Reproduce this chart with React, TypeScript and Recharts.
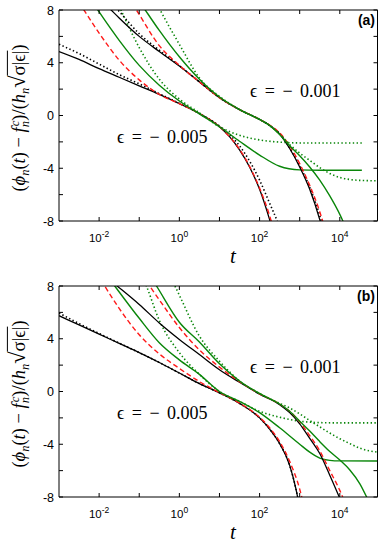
import React from "react";
import { LineChart, Line, XAxis, YAxis } from "recharts";

// each curve: [log10 t, y]
type Pt = [number, number];

// ---- panel (a) ----
const aBlack005: Pt[] = [[-3, 4.85], [-2.5, 4.25], [-2, 3.55], [-1.5, 2.9], [-1, 2.25], [-0.5, 1.6], [0, 0.9], [0.5, 0.15], [1, -0.85], [1.25, -1.6], [1.5, -2.6], [1.75, -3.9], [2, -5.6], [2.25, -7.9], [2.4, -9.5]];
const aBlackDot005: Pt[] = [[-3, 5.4], [-2.5, 4.7], [-2, 3.9], [-1.5, 3.1], [-1, 2.4], [-0.5, 1.65], [0, 0.92], [0.5, 0.15], [1, -0.8], [1.25, -1.45], [1.5, -2.3], [1.75, -3.45], [2, -4.9], [2.25, -6.65], [2.45, -8.1], [2.55, -9]];
const aRed005: Pt[] = [[-2.5, 8.55], [-2.4, 8.1], [-2, 6.25], [-1.5, 4.2], [-1, 2.7], [-0.5, 1.6], [0, 0.9], [0.5, 0.15], [1, -0.85], [1.25, -1.6], [1.5, -2.55], [1.75, -3.85], [2, -5.5], [2.25, -7.6], [2.4, -9.2]];
const aGreen005: Pt[] = [[-2.1, 8.3], [-2, 7.85], [-1.5, 5.7], [-1, 3.8], [-0.5, 2.3], [0, 1.1], [0.5, 0.12], [1, -0.85], [1.5, -1.95], [2, -3.0], [2.5, -3.85], [3, -4.12], [3.5, -4.15], [4.55, -4.15]];
const aGreenDot005: Pt[] = [[-1.5, 8.3], [-1, 5.15], [-0.5, 2.75], [0, 1.25], [0.5, 0.2], [1, -0.85], [1.5, -1.5], [2, -1.85], [2.5, -2.02], [3, -2.08], [4.55, -2.08]];

const aBlack001: Pt[] = [[-1.85, 8.45], [-1.7, 8.0], [-1.5, 7.4], [-1, 6.0], [-0.5, 4.85], [0, 3.75], [0.5, 2.55], [1, 1.35], [1.5, 0.45], [2, -0.3], [2.25, -0.75], [2.5, -1.4], [2.75, -2.5], [3, -3.9], [3.25, -5.6], [3.5, -7.9], [3.6, -9]];
const aBlackDot001: Pt[] = [[-1.65, 8.4], [-1.53, 8.0], [-1, 6.2], [-0.5, 4.95], [0, 3.78], [0.5, 2.55], [1, 1.35], [1.5, 0.45], [2, -0.3], [2.25, -0.75], [2.5, -1.38], [2.75, -2.45], [3, -3.8], [3.25, -5.45], [3.5, -7.6], [3.6, -8.7]];
const aRed001: Pt[] = [[-1.17, 8.47], [-1.07, 8.0], [-0.5, 5.3], [0, 3.8], [0.5, 2.55], [1, 1.35], [1.5, 0.45], [2, -0.3], [2.25, -0.72], [2.5, -1.32], [2.75, -2.3], [3, -3.65], [3.25, -5.3], [3.5, -7.3], [3.65, -8.8]];
const aGreen001: Pt[] = [[-0.95, 8.45], [-0.85, 8.0], [-0.5, 6.45], [0, 4.45], [0.5, 2.75], [1, 1.4], [1.5, 0.45], [2, -0.3], [2.25, -0.75], [2.5, -1.45], [2.75, -2.3], [3, -3.05], [3.25, -3.9], [3.5, -4.9], [3.75, -6.1], [4, -7.5], [4.15, -8.5]];
const aGreenDot001: Pt[] = [[-0.55, 8.4], [-0.48, 8.0], [0, 5.4], [0.5, 2.85], [1, 1.45], [1.5, 0.45], [2, -0.3], [2.25, -0.75], [2.5, -1.4], [2.75, -2.2], [3, -2.85], [3.25, -3.4], [3.5, -3.95], [3.75, -4.4], [4, -4.7], [4.25, -4.85], [4.5, -4.92], [4.94, -4.95]];

// ---- panel (b) ----
const bBlack005: Pt[] = [[-3, 5.75], [-2.5, 5.05], [-2, 4.35], [-1.5, 3.65], [-1, 2.95], [-0.5, 2.2], [0, 1.4], [0.5, 0.6], [1, -0.1], [1.5, -0.9], [2, -2.0], [2.25, -2.85], [2.5, -3.95], [2.75, -5.6], [2.9, -7.3], [3.0, -8.8]];
const bBlackDot005: Pt[] = [[-3, 5.95], [-2.5, 5.15], [-2, 4.4], [-1.5, 3.67], [-1, 2.95], [-0.5, 2.2], [0, 1.4], [0.5, 0.6], [1, -0.1], [1.5, -0.9], [2, -2.0], [2.25, -2.85], [2.5, -3.95], [2.75, -5.6], [2.9, -7.3], [3.0, -8.8]];
const bRed005: Pt[] = [[-1.95, 8.45], [-1.86, 8.0], [-1.5, 6.3], [-1, 4.3], [-0.5, 2.85], [0, 1.75], [0.5, 0.75], [1, -0.08], [1.5, -0.88], [2, -1.95], [2.25, -2.75], [2.5, -3.8], [2.75, -5.3], [3, -7.4], [3.1, -8.6]];
const bGreen005: Pt[] = [[-1.72, 8.45], [-1.61, 8.0], [-1, 5.55], [-0.5, 3.7], [0, 2.4], [0.5, 1.3], [1, 0.0], [1.5, -0.75], [2, -1.6], [2.5, -2.75], [3, -4.0], [3.25, -4.6], [3.5, -5.05], [3.75, -5.22], [4, -5.26], [4.94, -5.27]];
const bGreenDot005: Pt[] = [[-0.9, 8.6], [-0.82, 8.0], [-0.5, 5.4], [0, 2.95], [0.5, 1.3], [1, 0.0], [1.5, -0.75], [2, -1.5], [2.5, -1.95], [3, -2.25], [3.5, -2.36], [4, -2.38], [4.94, -2.38]];

const bBlack001: Pt[] = [[-1.75, 8.5], [-1.57, 8.05], [-1, 6.6], [-0.5, 5.2], [0, 3.95], [0.5, 2.8], [1, 1.65], [1.5, 0.7], [2, -0.2], [2.5, -1.0], [2.75, -1.6], [3, -2.45], [3.25, -3.55], [3.5, -4.7], [3.75, -6.35], [4, -8.1]];
const bRed001: Pt[] = [[-0.82, 8.35], [-0.74, 8.0], [-0.5, 6.95], [0, 4.85], [0.5, 3.15], [1, 1.85], [1.5, 0.75], [2, -0.18], [2.5, -0.95], [2.75, -1.5], [3, -2.3], [3.25, -3.35], [3.5, -4.5], [3.75, -6.0], [4, -7.5], [4.15, -8.6]];
const bGreen001: Pt[] = [[-0.67, 8.48], [-0.57, 8.0], [0, 5.25], [0.5, 3.75], [1, 2.1], [1.5, 0.8], [2, -0.15], [2.5, -0.95], [2.75, -1.5], [3, -2.25], [3.25, -3.0], [3.5, -3.8], [3.75, -4.55], [4, -5.2], [4.25, -5.95], [4.5, -7.0], [4.7, -8.2]];
const bGreenDot001: Pt[] = [[-0.2, 8.5], [-0.11, 8.0], [0, 7.3], [0.5, 4.2], [1, 2.3], [1.5, 0.8], [2, -0.15], [2.5, -0.9], [2.75, -1.25], [3, -1.7], [3.25, -2.2], [3.5, -2.68], [3.75, -3.15], [4, -3.58], [4.25, -3.95], [4.5, -4.3], [4.94, -4.6]];

const xTicks = [1e-2, 1e-1, 1, 1e1, 1e2, 1e3, 1e4];
const yTicks = [-8, -6, -4, -2, 0, 2, 4, 6, 8];
const xDomain = [1e-3, 8.7e4];
const yDomain = [-8, 8];

const STYLES: Record<string, { stroke: string; width: number; dash?: string }> = {
  black: { stroke: "#000", width: 1.3 },
  blackDot: { stroke: "#000", width: 1.6, dash: "1.4 2.4" },
  red: { stroke: "#ff1a1a", width: 1.4, dash: "5 3" },
  green: { stroke: "#0a860a", width: 1.4 },
  greenDot: { stroke: "#0a860a", width: 1.6, dash: "1.4 2.4" },
};

const panelA: [Pt[], string][] = [
  [aBlack005, "black"], [aBlackDot005, "blackDot"], [aRed005, "red"], [aGreen005, "green"], [aGreenDot005, "greenDot"],
  [aBlack001, "black"], [aBlackDot001, "blackDot"], [aRed001, "red"], [aGreen001, "green"], [aGreenDot001, "greenDot"],
];
const panelB: [Pt[], string][] = [
  [bBlack005, "black"], [bBlackDot005, "blackDot"], [bRed005, "red"], [bGreen005, "green"], [bGreenDot005, "greenDot"],
  [bBlack001, "black"], [bRed001, "red"], [bGreen001, "green"], [bGreenDot001, "greenDot"],
];

const toRows = (pts: Pt[]) => pts.map(([lt, y]) => ({ t: Math.pow(10, lt), y }));

const SANS = "'Liberation Sans', Arial, Helvetica, sans-serif";
const SERIF = "'Liberation Serif', 'Times New Roman', Times, serif";
const TICK = 4;

function BottomTick(props: any) {
  const { x, y, payload } = props;
  const e = Math.round(Math.log10(payload.value));
  return (
    <g>
      <line x1={x} x2={x} y1={y} y2={y - TICK} stroke="#000" />
      {e % 2 === 0 && (
        <text x={x} y={y + 21} textAnchor="middle" fontFamily={SANS} fontSize={11.5} fill="#000">
          10<tspan dy={-5} fontSize={8.5}>{e}</tspan>
        </text>
      )}
    </g>
  );
}

function TopTick(props: any) {
  const { x, y } = props;
  return <line x1={x} x2={x} y1={y} y2={y + TICK} stroke="#000" />;
}

function LeftTick(props: any) {
  const { x, y, payload } = props;
  const v = payload.value;
  return (
    <g>
      <line x1={x} x2={x + TICK} y1={y} y2={y} stroke="#000" />
      {v % 4 === 0 && (
        <text x={x - 5} y={y + 4.5} textAnchor="end" fontFamily={SANS} fontSize={12.5} fill="#000">
          {v}
        </text>
      )}
    </g>
  );
}

function RightTick(props: any) {
  const { x, y } = props;
  return <line x1={x} x2={x - TICK} y1={y} y2={y} stroke="#000" />;
}

function Panel({ series }: { series: [Pt[], string][] }) {
  return (
    <LineChart width={382} height={275} margin={{ top: 9, right: 3.5, bottom: 0, left: 0 }}>
      <XAxis
        xAxisId="b"
        type="number"
        dataKey="t"
        scale="log"
        domain={xDomain}
        allowDataOverflow
        ticks={xTicks}
        interval={0}
        height={54}
        tickSize={0}
        tickMargin={0}
        tickLine={false}
        axisLine={{ stroke: "#000" }}
        tick={(p: any) => <BottomTick {...p} />}
      />
      <XAxis
        xAxisId="t"
        orientation="top"
        type="number"
        dataKey="t"
        scale="log"
        domain={xDomain}
        allowDataOverflow
        ticks={xTicks}
        interval={0}
        height={1}
        tickSize={0}
        tickMargin={0}
        tickLine={false}
        axisLine={{ stroke: "#000" }}
        tick={(p: any) => <TopTick {...p} />}
      />
      <YAxis
        yAxisId="l"
        type="number"
        domain={yDomain}
        allowDataOverflow
        ticks={yTicks}
        interval={0}
        width={59}
        tickSize={0}
        tickMargin={0}
        tickLine={false}
        axisLine={{ stroke: "#000" }}
        tick={(p: any) => <LeftTick {...p} />}
      />
      <YAxis
        yAxisId="r"
        orientation="right"
        type="number"
        domain={yDomain}
        allowDataOverflow
        ticks={yTicks}
        interval={0}
        width={1}
        tickSize={0}
        tickMargin={0}
        tickLine={false}
        axisLine={{ stroke: "#000" }}
        tick={(p: any) => <RightTick {...p} />}
      />
      {series.map(([pts, kind], i) => {
        const s = STYLES[kind];
        return (
          <Line
            key={i}
            xAxisId="b"
            yAxisId="l"
            data={toRows(pts)}
            dataKey="y"
            type="monotone"
            stroke={s.stroke}
            strokeWidth={s.width}
            strokeDasharray={s.dash}
            dot={false}
            activeDot={false}
            isAnimationActive={false}
          />
        );
      })}
    </LineChart>
  );
}

function YLabel({ cy }: { cy: number }) {
  const sub: React.CSSProperties = { fontSize: "0.68em", position: "relative", top: "0.3em", fontStyle: "italic" };
  const sup: React.CSSProperties = { fontSize: "0.68em", position: "relative", top: "-0.45em", fontStyle: "italic" };
  return (
    <div
      style={{
        position: "absolute",
        left: 18,
        top: cy,
        transform: "translate(-50%, -50%) rotate(-90deg)",
        whiteSpace: "nowrap",
        fontFamily: SERIF,
        fontSize: 18.5,
        lineHeight: 1,
        color: "#000",
      }}
    >
      (<i>ϕ</i><span style={sub}>n</span>(<i>t</i>) − <i>f</i>
      <span style={sub}>n</span>
      <span style={{ ...sup, marginLeft: "-0.42em" }}>c</span>
      )/(<i>h</i><span style={sub}>n</span>
      <span style={{ fontSize: "1.2em" }}>√</span>
      <span style={{ borderTop: "1px solid #000", paddingTop: 1 }}>σ|ϵ|</span>)
    </div>
  );
}

function Annotations({ dy, tag }: { dy: number; tag: string }) {
  return (
    <g>
      <text x={375} y={25 + dy} textAnchor="end" fontFamily={SANS} fontWeight="bold" fontSize={14}>
        {tag}
      </text>
      <text x={250} y={97 + dy} fontFamily={SERIF} fontSize={18} wordSpacing={3}>
        ϵ = − 0.001
      </text>
      <text x={117} y={143 + dy} fontFamily={SERIF} fontSize={18} wordSpacing={3}>
        ϵ = − 0.005
      </text>
      <text x={233} y={263 + dy} textAnchor="middle" fontFamily={SERIF} fontStyle="italic" fontSize={21}>
        t
      </text>
    </g>
  );
}

export default function App() {
  return (
    <div style={{ position: "absolute", left: 0, top: 0, width: 382, height: 551, background: "#fff", overflow: "hidden" }}>
      <div style={{ position: "absolute", left: 0, top: 0 }}>
        <Panel series={panelA} />
      </div>
      <div style={{ position: "absolute", left: 0, top: 275.5 }}>
        <Panel series={panelB} />
      </div>
      <svg width={382} height={551} style={{ position: "absolute", left: 0, top: 0, pointerEvents: "none" }}>
        <Annotations dy={0} tag="(a)" />
        <Annotations dy={275.5} tag="(b)" />
      </svg>
      <YLabel cy={118} />
      <YLabel cy={393.5} />
    </div>
  );
}
